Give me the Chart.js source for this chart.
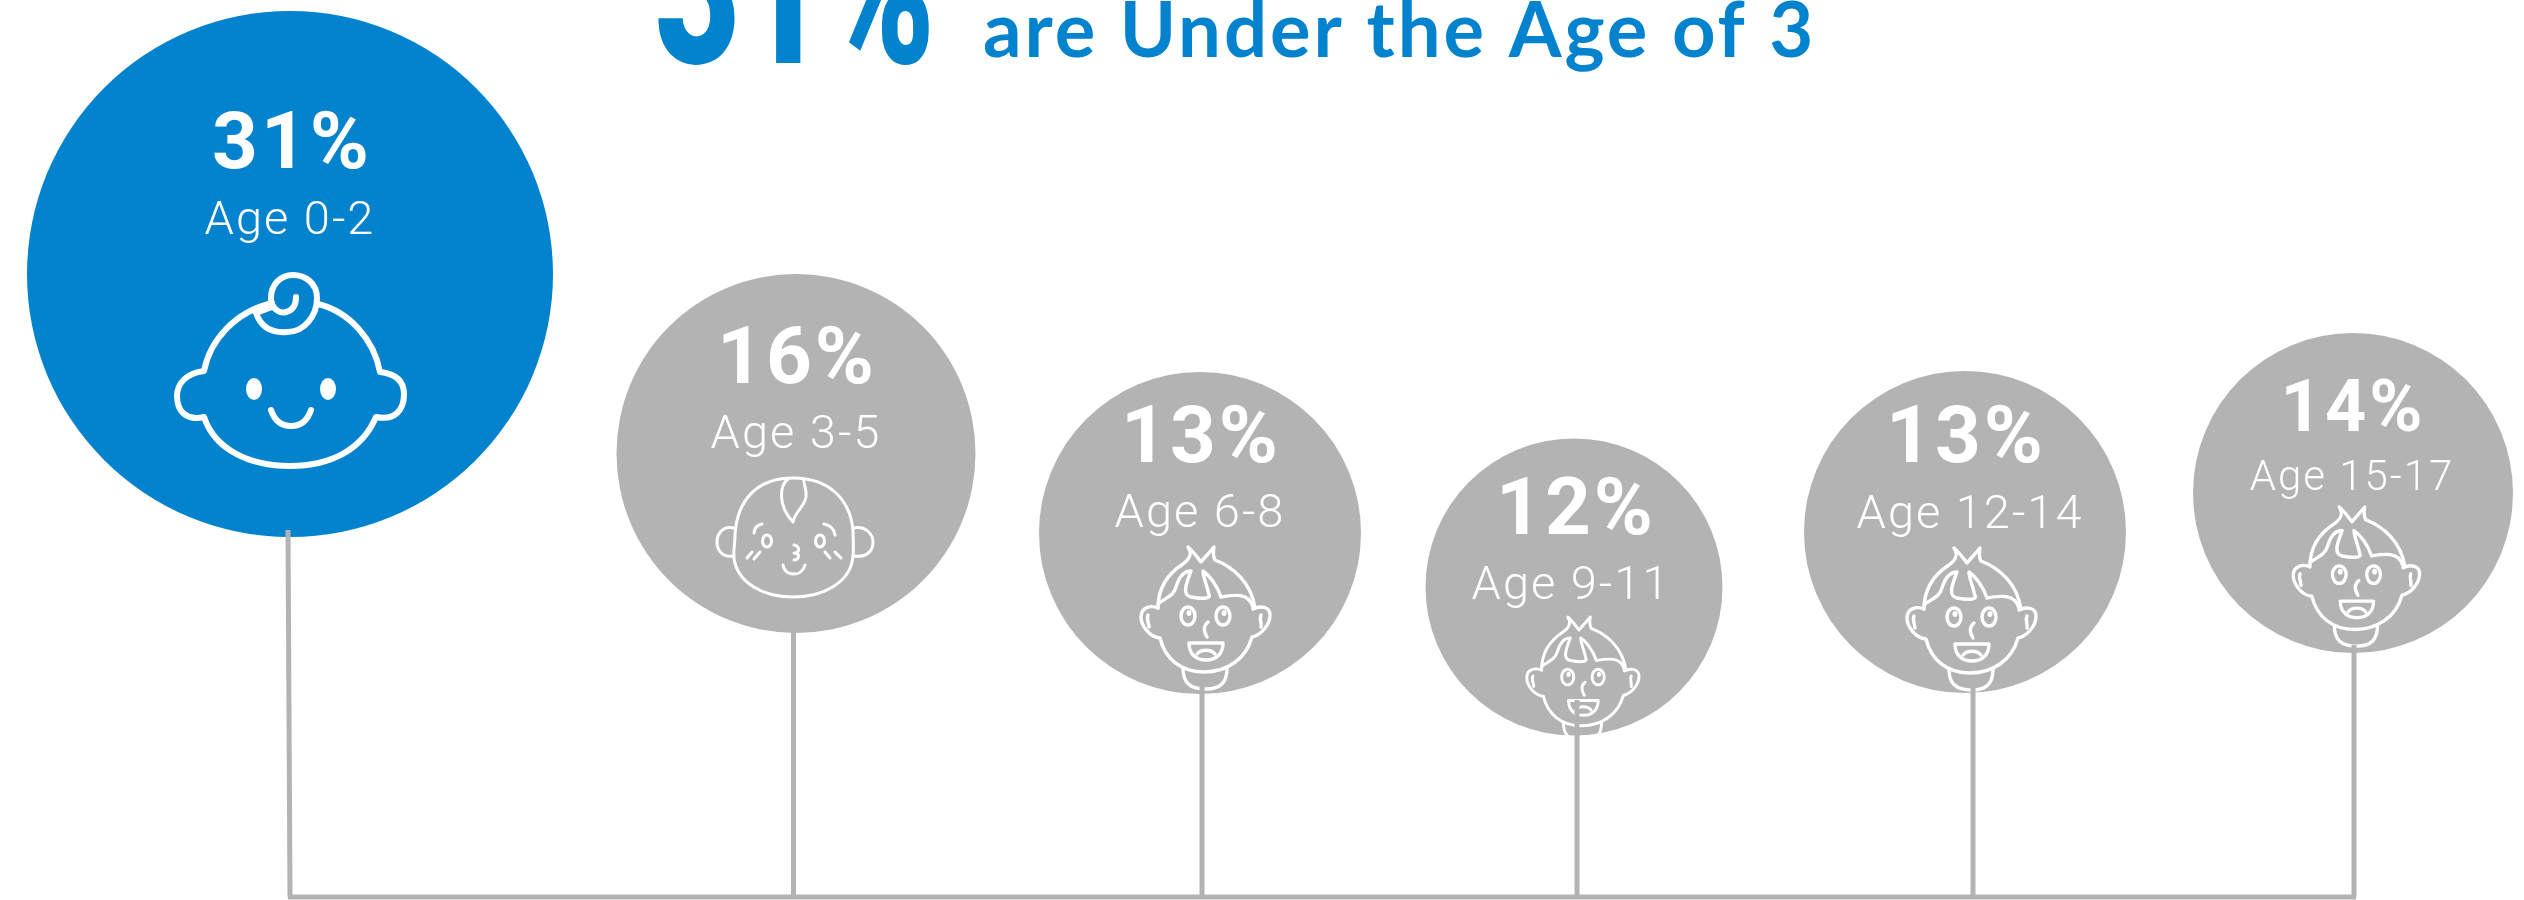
<!DOCTYPE html>
<html><head><meta charset="utf-8">
<style>html,body{margin:0;padding:0;background:#fff;overflow:hidden}canvas{display:block}</style>
<script src="https://cdn.jsdelivr.net/npm/chart.js@4"></script></head>
<body><canvas id="c" width="2524" height="900"></canvas>
<script>
// --- data ---
const categories = ["Age 0-2","Age 3-5","Age 6-8","Age 9-11","Age 12-14","Age 15-17"];
const values = [31,16,13,12,13,14];
const titleValue = "31%";
const titleText = "are Under the Age of 3";
// --- layout ---
const centerX = [290,796,1200,1574,1965,2353];
const centerY = [274,453.5,533,587,532,493];
const radii = [263,179.5,161,148.5,161,160];
const stemX = [288,793.5,1202,1577,1973,2354];
const stemTop = [530,625,685,700,680,645];
const baseY = 897;
const pctX = [292,797,1201,1576,1966,2353], pctY = [168,383,462,534,462,431], pctSize = [80,80,80,80,80,72];
const ageX = [290,796,1200,1571,1970,2352], ageY = [234,448,527,599,528,490], ageSize = [47,47,47,47,47,42];
const BLUE = "#0382ce", GREY = "#b3b3b3";
const iconKind = ["baby","infant","boy","boy","boy","boy"];
const iconPos = [[0,0],[0,0],[1201,547],[1579,617],[1967,548],[2352,507]];
const iconScale = [1,1,1,.87,1,.98];
const iconStroke = [6,3,3.4,3.4,3.4,3.4];

const babyPaths = ["M272,303 C235,312 210,340 204,371 C186,373 177,384 177,396 C177,411 186,421 204,417 C215,450 250,466 290,466 C330,466 362,450 376,417 C395,421 404,410 404,394 C404,382 397,374 380,372 C374,340 350,312 318,304",
"M256,313 L272,307 M256,313 C262,330 275,333 287,332 C305,332 317,315 317,298 C317,283 305,275 293,275 C280,275 271,285 271,298 C271,308 279,314 286,312 C294,310 296,303 296,297",
"M271,410 C275,422 282,426 291,426 C300,426 307,422 311,410"];
const infantPaths = ["M793,478 C757,478 737,500 735,535 C735,545 733,552 734,558 C737,582 762,597 793,597 C824,597 851,582 853,556 C854,548 853,542 853,530 C850,500 830,478 793,478 Z",
"M788,479 C780,485 777,505 793,522 C795,510 808,505 806,492 C805,485 803,482 804,479",
"M734,528 C722,525 717,535 717,542 C717,550 722,558 734,556 M853,528 C866,525 873,535 873,542 C873,550 868,558 853,556",
"M754,533 C754,527 758,525 762,524 M824,524 C830,525 834,529 835,535",
"M794,545 C800,546 800,553 794,553 C800,553 800,559 794,560","M783,565 C785,577 802,577 805,565",
"M747,558 L752,552 M754,559 L760,552 M825,552 L830,558 M835,552 L841,558"];
const boyPaths = ["M-43,61 C-43,40 -32,26 -18,17 C-10,11 -9,6 -13,0 C-8,4 -4,10 0,15 C4,10 9,5 13,0 C12,5 12,9 14,13 C32,20 50,35 54,61",
"M-43,61 C-50,58 -60,60 -60,70 C-60,78 -52,90 -41,91 C-36,112 -20,125 3,125 C26,125 45,112 51,90 C60,88 69,78 69,68 C69,60 60,58 52,62",
"M-43,57 C-35,50 -28,50 -25,40 C-22,30 -17,24 -10,24 C-14,35 -20,48 -10,50 C0,52 10,52 8,48 C6,38 2,30 2,24 C8,28 16,38 20,50 C32,48 48,45 52,60",
"M-53,68 C-55,72 -52,76 -52,80 M60,68 C58,72 61,76 60,80","M7,75 C2,79 3,85 6,90",
"M-12,96 L22,96 C22,108 14,113 5,113 C-4,113 -12,108 -12,96 Z","M-4,107 C0,102 10,102 14,107",
"M-18,121 C-18,135 -12,142 5,142 C20,142 26,135 26,121"];

const iconPlugin = {
  id:"labels",
  afterDatasetDraw(chart,args){
    if(args.index!==0) return;
    const ctx=chart.ctx, sx=chart.scales.x, sy=chart.scales.y;
    categories.forEach((cat,i)=>{
      ctx.save();
      ctx.fillStyle="#fff"; ctx.textAlign="center"; ctx.textBaseline="alphabetic";
      ctx.font=`700 ${pctSize[i]}px Roboto`; ctx.letterSpacing="3px";
      ctx.fillText(values[i]+"%",sx.getPixelForValue(pctX[i]),sy.getPixelForValue(pctY[i]));
      ctx.font=`300 ${ageSize[i]}px Roboto`; ctx.letterSpacing="2px";
      ctx.fillText(cat,sx.getPixelForValue(ageX[i]),sy.getPixelForValue(ageY[i]));
      ctx.letterSpacing="0px";
      ctx.strokeStyle="#fff"; ctx.lineCap="round"; ctx.lineJoin="round";
      ctx.translate(iconPos[i][0],iconPos[i][1]); ctx.scale(iconScale[i],iconScale[i]);
      ctx.lineWidth=iconStroke[i];
      const k=iconKind[i];
      const paths=k==="baby"?babyPaths:k==="infant"?infantPaths:boyPaths;
      paths.forEach(p=>ctx.stroke(new Path2D(p)));
      const ell=(x,y,a,b,fill)=>{ctx.beginPath();ctx.ellipse(x,y,a,b,0,0,Math.PI*2);fill?ctx.fill():ctx.stroke();};
      if(k==="baby"){ell(254,389,8,11,true);ell(328,389,8,11,true);}
      if(k==="infant"){ell(767,541,4.5,6);ell(820,541,4.5,6);}
      if(k==="boy"){ell(-13,69,7,9);ell(22,69,7,9);ell(-12,66,2.5,3,true);ell(23,66,2.5,3,true);}
      ctx.restore();
    });
    ctx.save();
    ctx.fillStyle=BLUE; ctx.textAlign="left"; ctx.textBaseline="alphabetic";
    ctx.save();
    ctx.font="900 225px Roboto";
    const w=ctx.measureText(titleValue).width;
    ctx.translate(655,63); ctx.scale(280/w,1);
    ctx.fillText(titleValue,0,0);
    ctx.restore();
    ctx.font="700 76px Lato"; ctx.letterSpacing="3px"; ctx.fillText(titleText,983,57);
    ctx.restore();
  }
};

const bubble = {type:"bubble",order:2,clip:false,
  data:values.map((v,i)=>({x:centerX[i],y:centerY[i],r:radii[i]})),
  backgroundColor:values.map((v,i)=>i===0?BLUE:GREY),borderWidth:0,hoverBorderWidth:0};
const stems = stemX.map((x,i)=>({type:"line",order:1,clip:false,
  data:[{x:i===0?x+2:x,y:baseY},{x,y:stemTop[i]}],borderColor:GREY,borderWidth:5,pointRadius:0,fill:false}));
const base = {type:"line",order:1,clip:false,data:[{x:stemX[0],y:baseY},{x:stemX[5]+2,y:baseY}],borderColor:GREY,borderWidth:5,pointRadius:0,fill:false};

new Chart(document.getElementById("c"),{
  data:{datasets:[bubble,...stems,base]},
  plugins:[iconPlugin],
  options:{responsive:false,animation:false,events:[],layout:{padding:0,autoPadding:false},
    scales:{x:{type:"linear",min:0,max:2524,display:false},y:{type:"linear",min:0,max:900,reverse:true,display:false}},
    plugins:{legend:{display:false},tooltip:{enabled:false},title:{display:false}}}
});
</script></body></html>
